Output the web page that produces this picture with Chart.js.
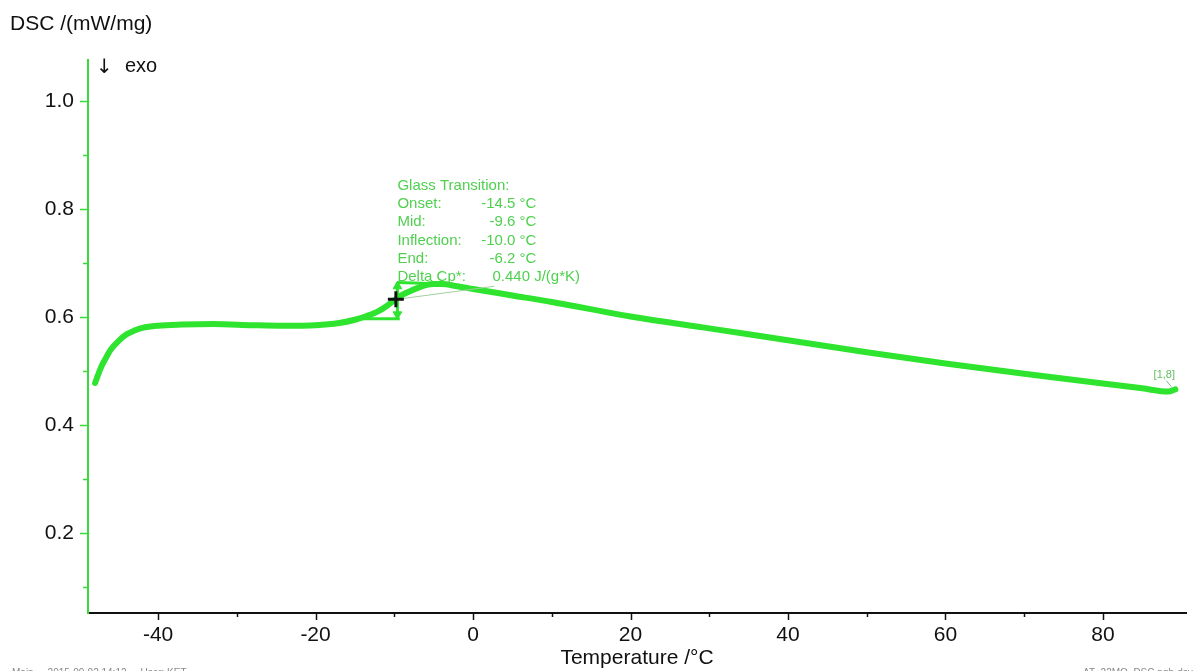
<!DOCTYPE html>
<html lang="en">
<head>
<meta charset="UTF-8">
<title>DSC /(mW/mg) – Glass Transition</title>
<script src="https://cdn.jsdelivr.net/npm/chart.js"></script>
<style>
  html, body { margin: 0; padding: 0; background: #fff; }
  canvas { display: block; }
</style>
</head>
<body>
<canvas id="chart" width="1197" height="671"></canvas>
<script>
  // DSC heating segment, temperature in °C and heat flow in mW/mg
  const temperature = [-48.0, -47.3, -46.6, -46.0, -45.0, -44.0, -43.0, -42.0, -40.0, -37.0,
    -33.0, -28.0, -24.0, -20.0, -17.0, -15.0, -13.5, -12.0, -11.0, -10.0,
    -9.0, -8.0, -7.0, -6.0, -5.0, -4.0, -2.0, 0.0, 5.0, 10.0,
    20.0, 30.0, 40.0, 50.0, 60.0, 70.0, 80.0, 85.0, 88.3, 89.2];
  const dsc = [0.478, 0.505, 0.525, 0.540, 0.556, 0.568, 0.575, 0.580, 0.584, 0.586,
    0.587, 0.585, 0.584, 0.585, 0.589, 0.595, 0.602, 0.611, 0.620, 0.631,
    0.641, 0.648, 0.654, 0.659, 0.661, 0.661, 0.657, 0.652, 0.640, 0.628,
    0.601, 0.579, 0.557, 0.535, 0.514, 0.495, 0.477, 0.468, 0.462, 0.466];

  // glass transition evaluation construction
  const lowerBaseT = [-14.0, -9.3];
  const lowerBaseY = [0.597, 0.597];
  const upperBaseT = [-9.6, -5.5];
  const upperBaseY = [0.664, 0.662];
  const stepT = [-9.6, -9.6];
  const stepY = [0.598, 0.665];
  const arrowHeadT = [-9.6, -9.6];
  const arrowHeadY = [0.657, 0.605];
  const arrowHeadRot = [0, 180];
  const inflectionPoint = { x: -9.8, y: 0.633 };
  const leaderT = [-9.6, 2.7];
  const leaderY = [0.633, 0.657];

  const gtTitle = 'Glass Transition:';
  const gtNames = ['Onset:', 'Mid:', 'Inflection:', 'End:'];
  const gtValues = ['-14.5 °C', '-9.6 °C', '-10.0 °C', '-6.2 °C'];
  const deltaCpName = 'Delta Cp*:';
  const deltaCpValue = '0.440 J/(g*K)';
  const gtLabelAnchor = { x: -9.6, y: 0.843 };
  const curveTag = '[1,8]';

  const xTicks = [-40, -30, -20, -10, 0, 10, 20, 30, 40, 50, 60, 70, 80];
  const xLabelled = [-40, -20, 0, 20, 40, 60, 80];
  const yTicks = [0.1, 0.2, 0.3, 0.4, 0.5, 0.6, 0.7, 0.8, 0.9, 1.0];
  const yLabelled = [0.2, 0.4, 0.6, 0.8, 1.0];

  const curveGreen = '#2fe42f';
  const axisGreen = '#3ad83a';
  const textGreen = '#4fd04f';
  const fontFamily = '"Liberation Sans", Arial, sans-serif';

  const zip = (xs, ys) => xs.map((x, i) => ({ x, y: ys[i] }));

  // minor/major tick marks and free text
  const decorations = {
    id: 'decorations',
    afterDraw(chart) {
      const { ctx, scales: { x, y } } = chart;
      ctx.save();

      ctx.lineWidth = 1.5;
      ctx.strokeStyle = '#111';
      xTicks.forEach(v => {
        const px = Math.round(x.getPixelForValue(v)) + 0.5;
        const len = xLabelled.includes(v) ? 7 : 4;
        ctx.beginPath();
        ctx.moveTo(px, x.top);
        ctx.lineTo(px, x.top + len);
        ctx.stroke();
      });
      ctx.strokeStyle = axisGreen;
      yTicks.forEach(v => {
        const py = Math.round(y.getPixelForValue(v)) + 0.5;
        const len = yLabelled.includes(v) ? 8 : 5;
        ctx.beginPath();
        ctx.moveTo(y.right, py);
        ctx.lineTo(y.right - len, py);
        ctx.stroke();
      });

      // axis titles
      ctx.fillStyle = '#111';
      ctx.textBaseline = 'alphabetic';
      ctx.textAlign = 'left';
      ctx.font = '21px ' + fontFamily;
      ctx.fillText('DSC /(mW/mg)', 10, 30);
      ctx.font = '20px "DejaVu Sans", sans-serif';
      ctx.fillText('↓', 96, 73);
      ctx.font = '20px ' + fontFamily;
      ctx.fillText('exo', 125, 72);
      ctx.textAlign = 'center';
      ctx.font = '21px ' + fontFamily;
      ctx.fillText('Temperature /°C', (x.left + x.right) / 2, 664);

      // glass transition results
      const ax = x.getPixelForValue(gtLabelAnchor.x);
      const ay = y.getPixelForValue(gtLabelAnchor.y);
      const lh = 18.2;
      ctx.fillStyle = textGreen;
      ctx.font = '15px ' + fontFamily;
      ctx.textBaseline = 'middle';
      ctx.textAlign = 'left';
      ctx.fillText(gtTitle, ax, ay);
      gtNames.forEach((n, i) => {
        ctx.textAlign = 'left';
        ctx.fillText(n, ax, ay + lh * (i + 1));
        ctx.textAlign = 'right';
        ctx.fillText(gtValues[i], ax + 139, ay + lh * (i + 1));
      });
      ctx.textAlign = 'left';
      ctx.fillText(deltaCpName, ax, ay + lh * 5);
      ctx.fillText(deltaCpValue, ax + 95, ay + lh * 5);

      // curve tag at the end of the segment
      const last = temperature.length - 2;
      const tx = x.getPixelForValue(temperature[last]);
      const ty = y.getPixelForValue(dsc[last]);
      ctx.fillStyle = '#5fbf5f';
      ctx.font = '11px ' + fontFamily;
      ctx.textAlign = 'center';
      ctx.fillText(curveTag, tx - 4, ty - 17);
      ctx.strokeStyle = '#7fbf7f';
      ctx.lineWidth = 1;
      ctx.beginPath();
      ctx.moveTo(tx - 2, ty - 11);
      ctx.lineTo(tx + 3, ty - 5);
      ctx.stroke();

      // file footer, mostly below the page edge
      ctx.fillStyle = '#888';
      ctx.font = '10px ' + fontFamily;
      ctx.textBaseline = 'top';
      ctx.textAlign = 'left';
      ctx.fillText('Main     2015-09-02 14:12     User: KET', 12, 668);
      ctx.fillText('AT_22MO_DSC.ngb-dsv', 1083, 668);
      ctx.restore();
    }
  };

  const ctx = document.getElementById('chart').getContext('2d');

  new Chart(ctx, {
    type: 'scatter',
    data: {
      datasets: [
        {
          data: zip(temperature, dsc),
          showLine: true,
          borderColor: curveGreen,
          borderWidth: 6,
          pointRadius: 0,
          cubicInterpolationMode: 'monotone',
          borderCapStyle: 'round',
          borderJoinStyle: 'round',
          order: 5
        },
        {
          data: zip(leaderT, leaderY),
          showLine: true,
          borderColor: '#9fcf9f',
          borderWidth: 1,
          pointRadius: 0,
          order: 4
        },
        {
          data: zip(lowerBaseT, lowerBaseY),
          showLine: true,
          borderColor: curveGreen,
          borderWidth: 3,
          pointRadius: 0,
          order: 3
        },
        {
          data: zip(upperBaseT, upperBaseY),
          showLine: true,
          borderColor: curveGreen,
          borderWidth: 3,
          pointRadius: 0,
          order: 3
        },
        {
          data: zip(stepT, stepY),
          showLine: true,
          borderColor: curveGreen,
          borderWidth: 3,
          pointRadius: 0,
          order: 2
        },
        {
          data: zip(arrowHeadT, arrowHeadY),
          showLine: false,
          pointStyle: 'triangle',
          pointRadius: 5,
          pointRotation: arrowHeadRot,
          backgroundColor: curveGreen,
          borderColor: curveGreen,
          borderWidth: 1,
          order: 1
        },
        {
          data: [inflectionPoint],
          showLine: false,
          pointStyle: 'cross',
          pointRadius: 8,
          borderWidth: 3,
          borderColor: '#111',
          order: 0
        }
      ]
    },
    options: {
      responsive: false,
      animation: false,
      events: [],
      layout: { padding: { top: 60, right: 10, left: 0, bottom: 0 } },
      plugins: {
        legend: { display: false },
        title: { display: false },
        tooltip: { enabled: false }
      },
      scales: {
        x: {
          type: 'linear',
          min: -48.9,
          max: 90.55,
          afterFit: s => { s.height = 58; },
          afterBuildTicks: s => { s.ticks = xTicks.map(v => ({ value: v })); },
          grid: { display: false, drawTicks: false },
          border: { display: true, color: '#111', width: 2 },
          ticks: {
            autoSkip: false,
            maxRotation: 0,
            padding: 10,
            color: '#111',
            font: { size: 21, family: fontFamily },
            callback: v => xLabelled.includes(v) ? String(v) : ''
          }
        },
        y: {
          type: 'linear',
          min: 0.052,
          max: 1.076,
          afterFit: s => { s.width = 88; },
          afterBuildTicks: s => { s.ticks = yTicks.map(v => ({ value: v })); },
          grid: { display: false, drawTicks: false },
          border: { display: true, color: axisGreen, width: 2 },
          ticks: {
            autoSkip: false,
            padding: 14,
            color: '#111',
            font: { size: 21, family: fontFamily },
            callback: v => yLabelled.includes(v) ? v.toFixed(1) : ''
          }
        }
      }
    },
    plugins: [decorations]
  });
</script>
</body>
</html>
